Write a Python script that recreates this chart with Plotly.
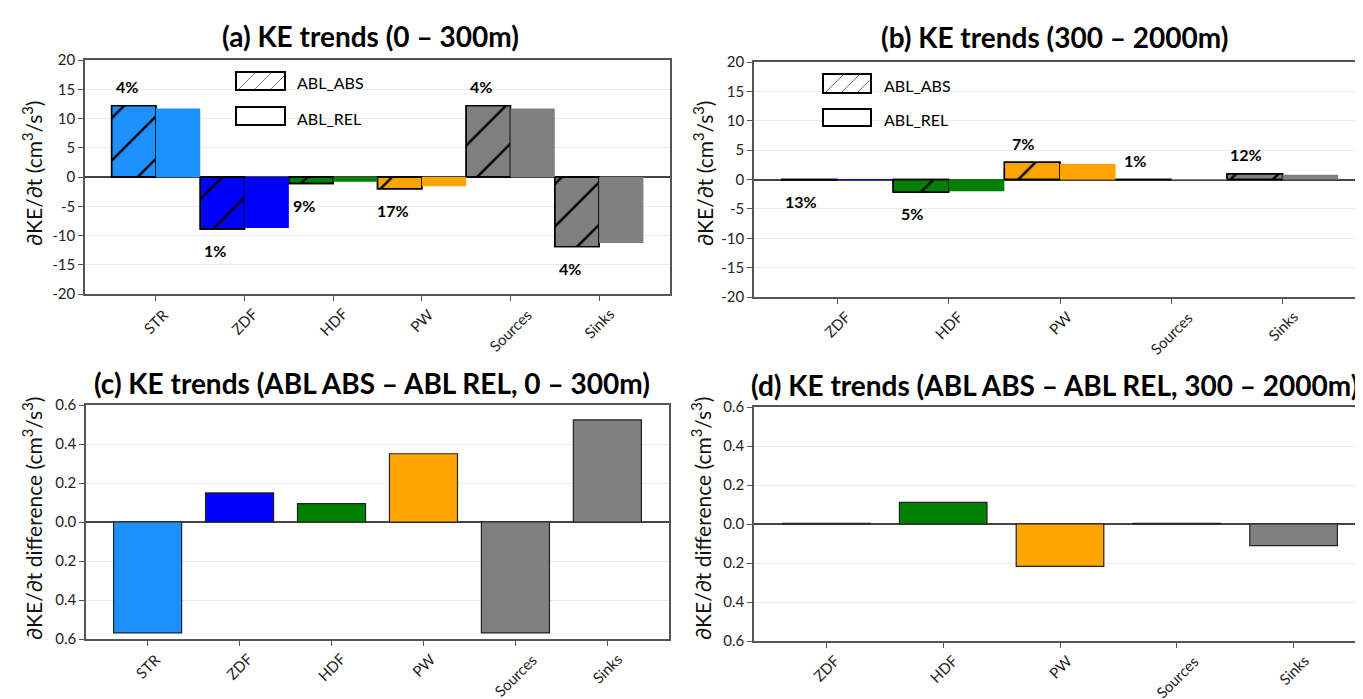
import plotly.graph_objects as go

# ---- data ----
cats_top_a = ["STR", "ZDF", "HDF", "PW", "Sources", "Sinks"]
abs_a = [12.2, -8.9, -1.1, -2.0, 12.2, -11.9]
rel_a = [11.7, -8.7, -0.8, -1.6, 11.7, -11.3]
pct_a = ["4%", "1%", "9%", "17%", "4%", "4%"]

cats_top_b = ["ZDF", "HDF", "PW", "Sources", "Sinks"]
abs_b = [-0.05, -2.15, 2.95, 0.02, 0.97]
rel_b = [-0.03, -2.0, 2.65, 0.01, 0.8]
pct_b = ["13%", "5%", "7%", "1%", "12%"]

cats_c = ["STR", "ZDF", "HDF", "PW", "Sources", "Sinks"]
diff_c = [-0.569, 0.149, 0.094, 0.350, -0.569, 0.524]

cats_d = ["ZDF", "HDF", "PW", "Sources", "Sinks"]
diff_d = [0.003, 0.111, -0.217, 0.003, -0.111]

colour_of = {"STR": "#1E90FF", "ZDF": "#0000FF", "HDF": "#008000",
             "PW": "#FFA500", "Sources": "#808080", "Sinks": "#808080"}

ticks_top = [20, 15, 10, 5, 0, -5, -10, -15, -20]
ticks_diff = [0.6, 0.4, 0.2, 0.0, -0.2, -0.4, -0.6]
ticktext_diff = ["0.6", "0.4", "0.2", "0.0", "0.2", "0.4", "0.6"]

W, H = 1363, 699
FONT = "Lato"


def px_x(p):
    return p / W


def px_y(p):
    return 1 - p / H


# pixel boxes of the four plot areas: left, right, top, bottom
boxes = {
    "a": (77, 662, 52, 286),
    "b": (746, 1358, 54, 289),
    "c": (78, 661, 397, 631),
    "d": (746, 1358, 399, 633),
}

fig = go.Figure()
annotations = []
shapes = []

top_panels = [
    ("x", "y", cats_top_a, abs_a, rel_a, pct_a),
    ("x2", "y2", cats_top_b, abs_b, rel_b, pct_b),
]
for xa, ya, cats, a_vals, r_vals, pcts in top_panels:
    cols = [colour_of[c] for c in cats]
    fig.add_trace(go.Bar(
        x=cats, y=a_vals, xaxis=xa, yaxis=ya, width=0.5, offset=-0.5,
        marker=dict(color=cols, line=dict(color="black", width=1.4)),
        showlegend=False, name="ABL_ABS"))
    # hatch drawn on top of the ABS bars
    fig.add_trace(go.Bar(
        x=cats, y=a_vals, xaxis=xa, yaxis=ya, width=0.5, offset=-0.5,
        marker=dict(color="rgba(0,0,0,0)", line=dict(color="black", width=1.4),
                    pattern=dict(shape="/", fillmode="replace", bgcolor="rgba(0,0,0,0)",
                                 fgcolor="black", fgopacity=1, size=30, solidity=0.08)),
        showlegend=False, hoverinfo="skip"))
    fig.add_trace(go.Bar(
        x=cats, y=r_vals, xaxis=xa, yaxis=ya, width=0.5, offset=0,
        marker=dict(color=cols, line=dict(width=0)),
        showlegend=False, name="ABL_REL"))
    for i, (v, p) in enumerate(zip(a_vals, pcts)):
        annotations.append(dict(
            x=i - 0.33, y=v + 3.25 if v > 0 else v - 3.7, xref=xa, yref=ya,
            text="<b>%s</b>" % p, showarrow=False, xanchor="center", yanchor="middle",
            font=dict(family=FONT, size=16, color="black")))

fig.add_trace(go.Bar(
    x=cats_c, y=diff_c, xaxis="x3", yaxis="y3", width=0.74,
    marker=dict(color=[colour_of[c] for c in cats_c], line=dict(color="#222", width=1.2)),
    showlegend=False))
fig.add_trace(go.Bar(
    x=cats_d, y=diff_d, xaxis="x4", yaxis="y4", width=0.75,
    marker=dict(color=[colour_of[c] for c in cats_d], line=dict(color="#222", width=1.2)),
    showlegend=False))

tickfont = dict(family=FONT, size=15, color="#222")
frame = dict(showline=True, linecolor="#555", linewidth=1.5, mirror=True,
             ticks="outside", ticklen=5, tickcolor="#555", tickfont=tickfont,
             automargin=False)


def xaxis(key, anchor, rng):
    l, r, t, b = boxes[key]
    return dict(domain=[px_x(l), px_x(r)], anchor=anchor, range=rng,
                showticklabels=False, showgrid=False, zeroline=False, **frame)


def yaxis(key, anchor, rng, tv, tt):
    l, r, t, b = boxes[key]
    return dict(domain=[px_y(b), px_y(t)], anchor=anchor, range=rng,
                tickvals=tv, ticktext=tt,
                showgrid=True, gridcolor="#ebebeb", gridwidth=1,
                zeroline=True, zerolinecolor="#444", zerolinewidth=1.5, **frame)


fig.update_layout(
    width=W, height=H, margin=dict(l=0, r=0, t=0, b=0),
    paper_bgcolor="white", plot_bgcolor="white", barmode="overlay",
    xaxis=xaxis("a", "y", [-0.8, 5.8]),
    yaxis=yaxis("a", "x", [-20, 20], ticks_top, [str(t) for t in ticks_top]),
    xaxis2=xaxis("b", "y2", [-0.75, 4.75]),
    yaxis2=yaxis("b", "x2", [-20, 20], ticks_top, [str(t) for t in ticks_top]),
    xaxis3=xaxis("c", "y3", [-0.67, 5.67]),
    yaxis3=yaxis("c", "x3", [-0.6, 0.6], ticks_diff, ticktext_diff),
    xaxis4=xaxis("d", "y4", [-0.62, 4.62]),
    yaxis4=yaxis("d", "x4", [-0.6, 0.6], ticks_diff, ticktext_diff),
)

# category labels, rotated and centred under each tick
for key, xa, cats in [("a", "x", cats_top_a), ("b", "x2", cats_top_b),
                      ("c", "x3", cats_c), ("d", "x4", cats_d)]:
    bottom = boxes[key][3]
    for i, c in enumerate(cats):
        annotations.append(dict(
            x=i, xref=xa, y=px_y(bottom + 8), yref="paper", text=c,
            textangle=-45, showarrow=False, xanchor="center", yanchor="top",
            font=dict(family=FONT, size=15, color="#222")))

# y-axis titles
ytitle = "∂KE/∂t (cm<sup>3</sup>/s<sup>3</sup>)"
ytitle_d = "∂KE/∂t difference (cm<sup>3</sup>/s<sup>3</sup>)"
for txt, cx, cy in [(ytitle, 24, 166), (ytitle, 695, 166),
                    (ytitle_d, 24, 511), (ytitle_d, 693, 511)]:
    annotations.append(dict(
        x=px_x(cx), y=px_y(cy), xref="paper", yref="paper", text=txt,
        textangle=-90, showarrow=False, xanchor="center", yanchor="middle",
        font=dict(family=FONT, size=21, color="#111")))

# panel titles
titles = [
    ("(a) KE trends (0 – 300m)", 362, 28),
    ("(b) KE trends (300 – 2000m)", 1046, 29),
    ("(c) KE trends (ABL ABS – ABL REL, 0 – 300m)", 364, 375),
    ("(d) KE trends (ABL ABS – ABL REL, 300 – 2000m)", 1046, 377),
]
for txt, cx, cy in titles:
    annotations.append(dict(
        x=px_x(cx), y=px_y(cy), xref="paper", yref="paper", text="<b>%s</b>" % txt,
        showarrow=False, xanchor="center", yanchor="middle",
        font=dict(family=FONT, size=28, color="black")))

# hand-drawn legend boxes inside panels (a) and (b): x0, x1, (top, bottom) rows, text x
legend_boxes = [
    (228, 277, [(64, 82), (99, 117)], 287),
    (815, 863, [(66, 85), (101, 118)], 874),
]
for bx0, bx1, rows, tx in legend_boxes:
    for (t, b), lab, hatched in zip(rows, ["ABL_ABS", "ABL_REL"], [True, False]):
        shapes.append(dict(type="rect", xref="paper", yref="paper",
                           x0=px_x(bx0), x1=px_x(bx1), y0=px_y(b), y1=px_y(t),
                           line=dict(color="black", width=2), fillcolor="white"))
        if hatched:
            h = b - t
            for k in range(3):
                sx = bx0 + 3 + k * 16
                ex = min(sx + h - 2, bx1 - 1)
                ey = b - 1 - (ex - sx)
                shapes.append(dict(type="line", xref="paper", yref="paper",
                                   x0=px_x(sx), y0=px_y(b - 1), x1=px_x(ex), y1=px_y(ey),
                                   line=dict(color="#777", width=1)))
        annotations.append(dict(x=px_x(tx), y=px_y((t + b) / 2 + 2), xref="paper",
                                yref="paper", text=lab, showarrow=False,
                                xanchor="left", yanchor="middle",
                                font=dict(family=FONT, size=16, color="black")))

fig.update_layout(annotations=annotations, shapes=shapes)

fig.write_html("out.html")
